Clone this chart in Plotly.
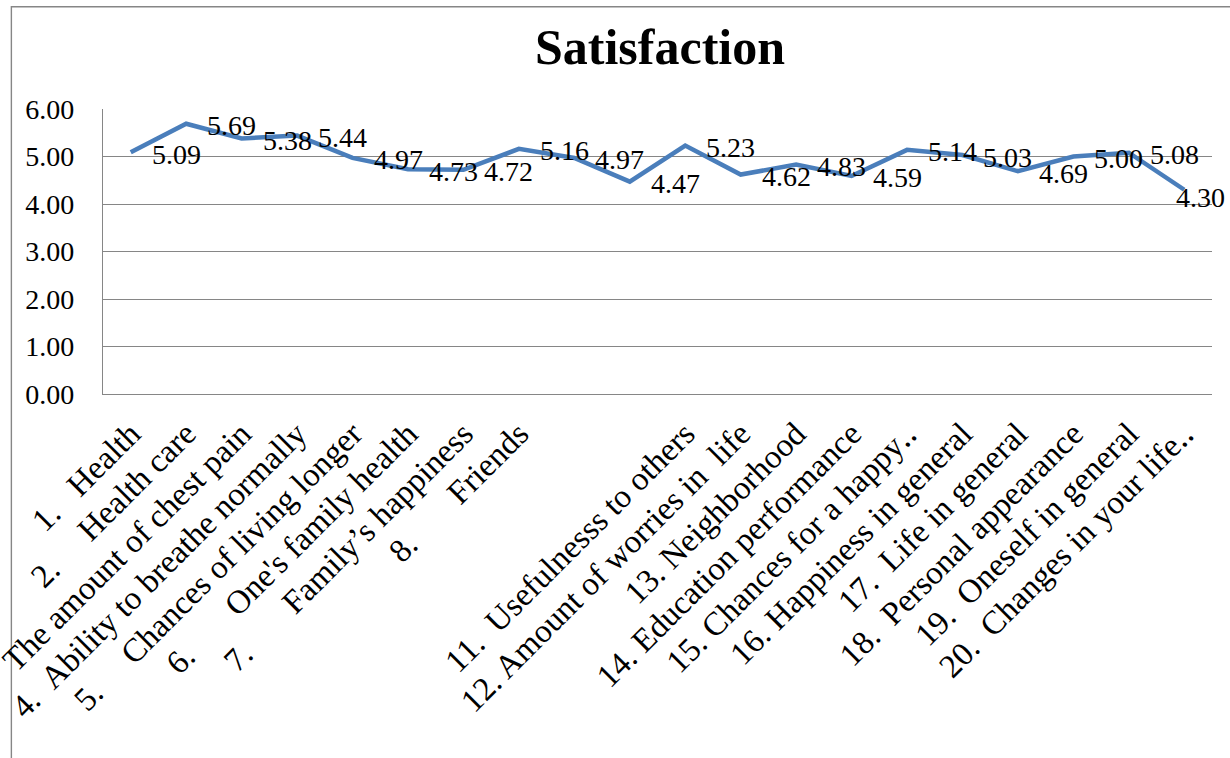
import plotly.graph_objects as go

NB = "\u00a0"

# ---- data ----
category_labels = [
    "1." + NB * 3 + "Health",
    "2." + NB * 5 + "Health care",
    "The amount of chest pain",
    "4." + NB * 2 + "Ability to breathe normally",
    "5." + NB * 5 + "Chances of living longer",
    "6." + NB * 7 + "One's family health",
    "7." + NB * 7 + "Family\u2019s happiness",
    "8." + NB * 7 + "Friends",
    "",
    "",
    "11." + NB * 2 + "Usefulnesss to others",
    "12. Amount of worries in" + NB * 2 + "life",
    "13. Neighborhood",
    "14. Education performance",
    "15." + NB + "Chances for a happy\u2025",
    "16. Happiness in general",
    "17." + NB * 2 + "Life in general",
    "18." + NB * 2 + "Personal appearance",
    "19." + NB * 2 + "Oneself in general",
    "20." + NB * 2 + "Changes in your life\u2025",
]
satisfaction = [5.09, 5.69, 5.38, 5.44, 4.97, 4.73, 4.72, 5.16, 4.97, 4.47,
                5.23, 4.62, 4.83, 4.59, 5.14, 5.03, 4.69, 5.00, 5.08, 4.30]
y_ticks = [0, 1, 2, 3, 4, 5, 6]
title_text = "Satisfaction"

# ---- layout geometry ----
W, H = 1230, 758
ML, MR, MT, MB = 103.3, 18, 109.3, 364.3
PW = W - ML - MR
PH = H - MT - MB

def px_x(p):
    return (p - ML) / PW

def px_y(p):
    return 1 + (MT - p) / PH

GRID = "#868686"
SERIF = "Liberation Serif"
xs = list(range(len(satisfaction)))

fig = go.Figure()
fig.add_trace(go.Scatter(
    x=xs, y=satisfaction, mode="lines",
    line=dict(color="#4A7EBB", width=4.5),
    hoverinfo="skip", showlegend=False,
))

last = len(satisfaction) - 1
for xi, v in zip(xs, satisfaction):
    fig.add_annotation(
        x=xi, y=v, text=f"{v:.2f}", showarrow=False,
        xanchor="left", yanchor="middle",
        xshift=(-10 if xi == last else 19), yshift=(-8 if xi == last else -2),
        font=dict(family=SERIF, size=28, color="black"),
    )

fig.add_annotation(
    xref="paper", yref="paper", x=px_x(660), y=px_y(47),
    text=f"<b>{title_text}</b>", showarrow=False,
    xanchor="center", yanchor="middle",
    font=dict(family=SERIF, size=50, color="black"),
)

# chart-area border (top and left visible)
fig.add_shape(
    type="rect", xref="paper", yref="paper",
    x0=px_x(11.7), y0=px_y(H + 50), x1=px_x(W + 50), y1=px_y(7.3),
    line=dict(color=GRID, width=1.4), fillcolor="rgba(0,0,0,0)", layer="below",
)

fig.update_layout(
    width=W, height=H,
    margin=dict(l=ML, r=MR, t=MT, b=MB, autoexpand=False),
    paper_bgcolor="white", plot_bgcolor="white",
    showlegend=False,
)
fig.update_xaxes(
    range=[-0.5, len(xs) - 0.5],
    tickmode="array", tickvals=xs, ticktext=category_labels,
    tickangle=-45, ticks="", showgrid=False, zeroline=False,
    showline=True, linecolor=GRID, linewidth=1.4,
    tickfont=dict(family=SERIF, size=33, color="black"),
    ticklabelstandoff=6, ticklabeloverflow="allow", automargin=False,
)
fig.update_yaxes(
    range=[0, 6], tickmode="array", tickvals=y_ticks,
    ticktext=[f"{t:.2f}" for t in y_ticks],
    showgrid=True, gridcolor=GRID, gridwidth=1.4, zeroline=False,
    showline=True, linecolor=GRID, linewidth=1.4, ticks="",
    tickfont=dict(family=SERIF, size=28, color="black"),
    ticklabelstandoff=22, automargin=False,
)

fig.write_html("out.html")
